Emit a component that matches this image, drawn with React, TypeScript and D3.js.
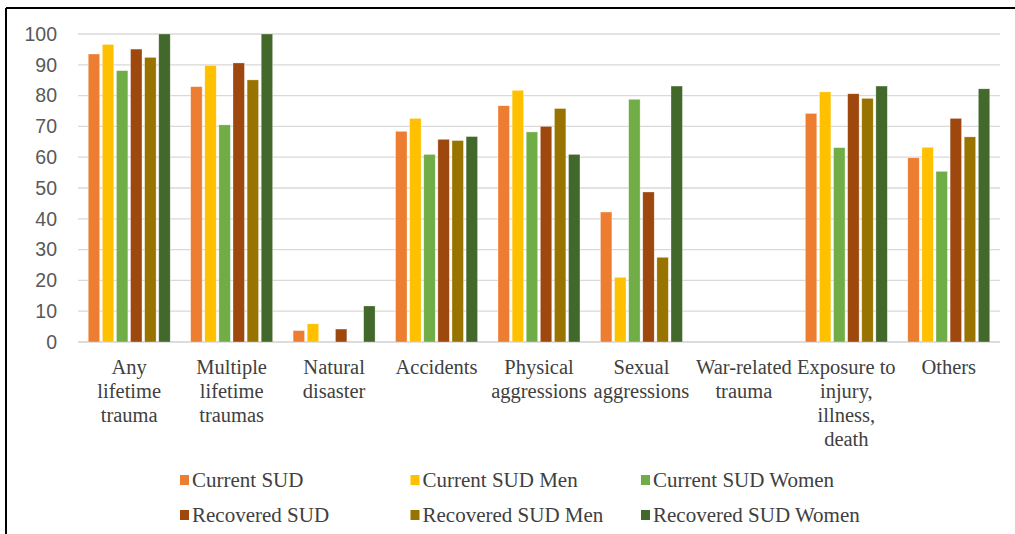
import React, { useRef, useEffect } from "react";
import * as d3 from "d3";

// categories, split into the lines used on the axis
const categories: string[][] = [
  ["Any", "lifetime", "trauma"],
  ["Multiple", "lifetime", "traumas"],
  ["Natural", "disaster"],
  ["Accidents"],
  ["Physical", "aggressions"],
  ["Sexual", "aggressions"],
  ["War-related", "trauma"],
  ["Exposure to", "injury,", "illness,", "death"],
  ["Others"],
];

const seriesNames = [
  "Current SUD",
  "Current SUD Men",
  "Current SUD Women",
  "Recovered SUD",
  "Recovered SUD Men",
  "Recovered SUD Women",
];

const seriesColors = ["#ED7D31", "#FFC000", "#70AD47", "#9E480E", "#997300", "#43682B"];

const currentSUD = [93.5, 82.9, 3.7, 68.4, 76.7, 42.2, 0, 74.2, 59.8];
const currentSUDMen = [96.6, 89.8, 5.9, 72.6, 81.7, 21.0, 0, 81.2, 63.2];
const currentSUDWomen = [88.1, 70.5, 0, 60.9, 68.2, 78.8, 0, 63.1, 55.4];
const recoveredSUD = [95.1, 90.6, 4.2, 65.8, 70.0, 48.7, 0, 80.6, 72.6];
const recoveredSUDMen = [92.4, 85.1, 0, 65.4, 75.8, 27.5, 0, 79.1, 66.6];
const recoveredSUDWomen = [100, 100, 11.7, 66.7, 60.9, 83.1, 0, 83.1, 82.2];

const seriesValues = [
  currentSUD,
  currentSUDMen,
  currentSUDWomen,
  recoveredSUD,
  recoveredSUDMen,
  recoveredSUDWomen,
];

const yTicks = [0, 10, 20, 30, 40, 50, 60, 70, 80, 90, 100];

const W = 1015;
const H = 534;

export default function App() {
  const svgRef = useRef<SVGSVGElement>(null);

  useEffect(() => {
    if (!svgRef.current) return;
    const svg = d3.select(svgRef.current);
    svg.selectAll("*").remove();

    const plot = { left: 78, right: 1000, top: 34, bottom: 342 };

    const x0 = d3
      .scaleBand<number>()
      .domain(categories.map((_, i) => i))
      .range([plot.left, plot.right])
      .paddingInner(0.2)
      .paddingOuter(0.1);

    const x1 = d3
      .scaleBand<number>()
      .domain(seriesNames.map((_, i) => i))
      .range([0, x0.bandwidth()])
      .paddingInner(0.19);

    const y = d3.scaleLinear().domain([0, 100]).range([plot.bottom, plot.top]);

    // frame lines
    svg.append("line").attr("x1", 6).attr("x2", W).attr("y1", 8).attr("y2", 8)
      .attr("stroke", "#000").attr("stroke-width", 2);
    svg.append("line").attr("x1", 6).attr("x2", 6).attr("y1", 8).attr("y2", H)
      .attr("stroke", "#000").attr("stroke-width", 2);

    // gridlines
    svg.append("g")
      .selectAll("line")
      .data(yTicks)
      .join("line")
      .attr("x1", plot.left)
      .attr("x2", plot.right)
      .attr("y1", (d) => y(d))
      .attr("y2", (d) => y(d))
      .attr("stroke", (d) => (d === 0 ? "#d0d0d0" : "#d9d9d9"))
      .attr("stroke-width", 1.3);

    // y tick labels
    svg.append("g")
      .selectAll("text")
      .data(yTicks)
      .join("text")
      .attr("x", 57)
      .attr("y", (d) => y(d))
      .attr("dy", "0.35em")
      .attr("text-anchor", "end")
      .attr("font-family", "'Liberation Sans', Arial, sans-serif")
      .attr("font-size", 19.5)
      .attr("fill", "#595959")
      .text((d) => d);

    // bars
    const groups = svg.append("g")
      .selectAll("g")
      .data(categories.map((_, i) => i))
      .join("g")
      .attr("transform", (i) => `translate(${x0(i)},0)`);

    groups
      .selectAll("rect")
      .data((ci) => seriesValues.map((vals, si) => ({ si, v: vals[ci] })).filter((d) => d.v > 0))
      .join("rect")
      .attr("x", (d) => x1(d.si)!)
      .attr("width", x1.bandwidth())
      .attr("y", (d) => y(d.v))
      .attr("height", (d) => y(0) - y(d.v))
      .attr("fill", (d) => seriesColors[d.si])
      .attr("stroke", "#ffffff")
      .attr("stroke-opacity", 0.5)
      .attr("stroke-width", 0.6);

    // category labels
    const catLabels = svg.append("g")
      .selectAll("text")
      .data(categories)
      .join("text")
      .attr("x", (_, i) => x0(i)! + x0.bandwidth() / 2)
      .attr("y", 374)
      .attr("text-anchor", "middle")
      .attr("font-family", "'Liberation Serif', 'Times New Roman', serif")
      .attr("font-size", 20.5)
      .attr("fill", "#404040");
    catLabels
      .selectAll("tspan")
      .data((d) => d)
      .join("tspan")
      .attr("x", function () {
        return (this.parentNode as SVGTextElement).getAttribute("x");
      })
      .attr("dy", (_, i) => (i === 0 ? 0 : 24))
      .text((d) => d);

    // legend
    const legendCol = d3.scalePoint<number>().domain([0, 1, 2]).range([180, 641]);
    const legendRow = d3.scalePoint<number>().domain([0, 1]).range([480, 515]);
    const legend = svg.append("g")
      .selectAll("g")
      .data(seriesNames)
      .join("g")
      .attr("transform", (_, i) => `translate(${legendCol(i % 3)},${legendRow(Math.floor(i / 3))})`);
    legend.append("rect")
      .attr("x", 0)
      .attr("y", -5)
      .attr("width", 9)
      .attr("height", 10)
      .attr("fill", (_, i) => seriesColors[i]);
    legend.append("text")
      .attr("x", 12)
      .attr("y", 0)
      .attr("dy", "0.35em")
      .attr("font-family", "'Liberation Serif', 'Times New Roman', serif")
      .attr("font-size", 21)
      .attr("fill", "#404040")
      .text((d) => d);
  }, []);

  return (
    <div style={{ position: "absolute", left: 0, top: 0, background: "#fff" }}>
      <svg ref={svgRef} width={W} height={H} style={{ display: "block" }}></svg>
    </div>
  );
}
